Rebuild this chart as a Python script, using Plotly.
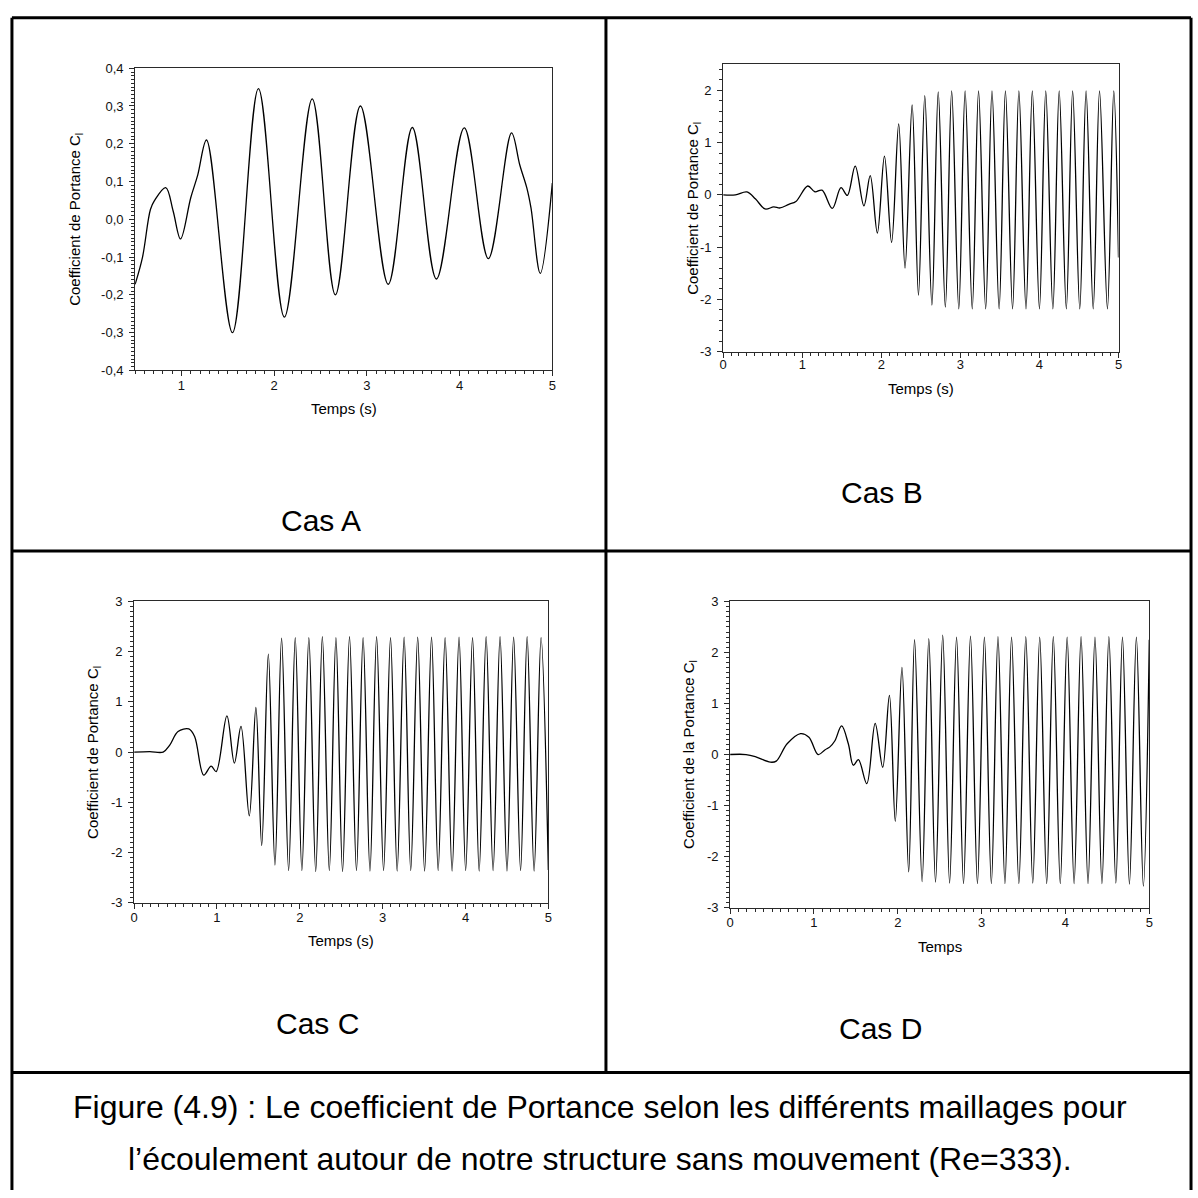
import plotly.graph_objects as go

W = H = 1198
FONT = "Liberation Sans, Arial, sans-serif"

# ---------------- data ----------------
# Cas A : lift coefficient vs time
t_a = [0.50, 0.58, 0.665, 0.71, 0.83, 0.91, 0.99, 1.10, 1.175, 1.27, 1.55, 1.83, 2.11,
       2.41, 2.66, 2.93, 3.23, 3.49, 3.75, 4.05, 4.31, 4.56, 4.65, 4.725, 4.77, 4.87, 5.00]
cl_a = [-0.172, -0.100, 0.026, 0.050, 0.084, 0.022, -0.052, 0.057, 0.117, 0.210, -0.300, 0.346, -0.259,
        0.319, -0.200, 0.300, -0.172, 0.243, -0.158, 0.242, -0.104, 0.229, 0.143, 0.083, 0.030, -0.143, 0.096]

# Cas B
t_b = [0.00, 0.155, 0.30, 0.41, 0.53, 0.64, 0.72, 0.83, 0.92, 1.07, 1.16, 1.25, 1.38, 1.49, 1.57,
       1.67, 1.78, 1.86, 1.95, 2.04, 2.13, 2.22, 2.30, 2.39, 2.47, 2.55, 2.64, 2.72,
       2.81, 2.89, 2.98, 3.06, 3.15, 3.23, 3.32, 3.40, 3.49, 3.57, 3.66, 3.74, 3.83, 3.91,
       4.00, 4.08, 4.17, 4.25, 4.34, 4.42, 4.51, 4.59, 4.68, 4.76, 4.86, 4.94, 5.00]
cl_b = [0.00, 0.00, 0.057, -0.08, -0.27, -0.23, -0.25, -0.18, -0.126, 0.17, 0.06, 0.09, -0.26, 0.14, -0.01,
        0.55, -0.21, 0.37, -0.73, 0.74, -0.91, 1.36, -1.40, 1.72, -1.92, 1.90, -2.11, 1.97,
        -2.15, 1.99, -2.18, 1.99, -2.18, 1.99, -2.18, 1.99, -2.18, 1.99, -2.18, 1.99, -2.18, 1.99,
        -2.18, 1.99, -2.18, 1.99, -2.18, 1.99, -2.18, 1.99, -2.18, 1.99, -2.18, 1.99, -1.20]

# Cas C
t_c = [0.00, 0.19, 0.35, 0.43, 0.53, 0.66, 0.73, 0.84, 0.93, 0.99, 1.12, 1.21, 1.29, 1.39, 1.47,
       1.54, 1.62, 1.70, 1.78,
       1.865, 1.945, 2.025, 2.109, 2.192, 2.272, 2.356, 2.436, 2.516, 2.600, 2.684, 2.764,
       2.847, 2.927, 3.011, 3.095, 3.175, 3.259, 3.339, 3.423, 3.506, 3.590, 3.670, 3.754,
       3.838, 3.922, 4.002, 4.085, 4.165, 4.249, 4.333, 4.417, 4.501, 4.581, 4.665, 4.744,
       4.828, 4.912, 5.00]
cl_c = [0.00, 0.01, 0.00, 0.14, 0.41, 0.46, 0.31, -0.46, -0.28, -0.39, 0.72, -0.22, 0.51, -1.27, 0.89,
        -1.86, 1.95, -2.25, 2.27,
        -2.36, 2.28, -2.36, 2.28, -2.38, 2.30, -2.36, 2.28, -2.38, 2.30, -2.36, 2.28,
        -2.37, 2.30, -2.36, 2.28, -2.37, 2.29, -2.36, 2.29, -2.37, 2.29, -2.36, 2.28,
        -2.37, 2.29, -2.36, 2.28, -2.37, 2.30, -2.36, 2.30, -2.37, 2.29, -2.36, 2.30,
        -2.37, 2.28, -2.35]

# Cas D
t_d = [0.00, 0.19, 0.30, 0.48, 0.55, 0.68, 0.84, 0.94, 1.05, 1.13, 1.19, 1.25, 1.33, 1.41, 1.47,
       1.53, 1.63, 1.73, 1.82, 1.90, 1.97, 2.05, 2.13, 2.20, 2.29, 2.37, 2.45, 2.536,
       2.618, 2.701, 2.784, 2.867, 2.950, 3.033, 3.116, 3.195, 3.278, 3.357, 3.444, 3.527,
       3.610, 3.693, 3.776, 3.855, 3.938, 4.020, 4.103, 4.186, 4.269, 4.352, 4.435, 4.518,
       4.601, 4.680, 4.763, 4.846, 4.929, 5.00]
cl_d = [0.00, 0.00, -0.04, -0.15, -0.13, 0.21, 0.41, 0.34, 0.00, 0.09, 0.15, 0.27, 0.56, 0.21, -0.21,
        -0.10, -0.57, 0.61, -0.25, 1.16, -1.31, 1.71, -2.30, 2.25, -2.49, 2.27, -2.50, 2.34,
        -2.52, 2.30, -2.53, 2.32, -2.53, 2.30, -2.53, 2.31, -2.53, 2.30, -2.53, 2.31,
        -2.52, 2.30, -2.53, 2.31, -2.53, 2.30, -2.53, 2.31, -2.53, 2.30, -2.53, 2.31,
        -2.52, 2.30, -2.54, 2.30, -2.58, 2.25]

# tick labels
xticks_a = [1, 2, 3, 4, 5]
yticks_a = [-0.4, -0.3, -0.2, -0.1, 0.0, 0.1, 0.2, 0.3, 0.4]
ylabels_a = ["-0,4", "-0,3", "-0,2", "-0,1", "0,0", "0,1", "0,2", "0,3", "0,4"]
xticks_int = [0, 1, 2, 3, 4, 5]
yticks_b = [-3, -2, -1, 0, 1, 2]
yticks_cd = [-3, -2, -1, 0, 1, 2, 3]

case_names = ["Cas A", "Cas B", "Cas C", "Cas D"]
ytitle_std = "Coefficient de Portance C<sub>l</sub>"
ytitle_d = "Coefficient de la Portance C<sub>l</sub>"
xtitle_s = "Temps (s)"
xtitle_d = "Temps"
caption_1 = "Figure (4.9) : Le coefficient de Portance selon les différents maillages pour"
caption_2 = "l’écoulement autour de notre structure sans mouvement (Re=333)."


# ---------------- layout helpers ----------------
def px_x(x):
    return x / W


def px_y(y):
    return 1 - y / H


def dom_x(left, right):
    return [px_x(left), px_x(right)]


def dom_y(top, bottom):
    return [px_y(bottom), px_y(top)]


AX = "#2a2a2a"


def axis(domain, rng, tickvals, ticktext, minor_dtick, anchor, standoff):
    return dict(
        domain=domain, range=rng, anchor=anchor,
        showline=True, linecolor=AX, linewidth=1, mirror=True,
        showgrid=False, zeroline=False,
        ticks="outside", ticklen=5, tickwidth=1, tickcolor=AX,
        ticklabelstandoff=standoff,
        tickmode="array", tickvals=tickvals, ticktext=ticktext,
        tickfont=dict(family=FONT, size=13, color="#111"),
        minor=dict(ticks="outside", ticklen=3, tickwidth=1, tickcolor=AX,
                   tickmode="linear", tick0=0, dtick=minor_dtick, showgrid=False),
        fixedrange=True,
    )


# plot-area boxes in pixels: (left, right, top, bottom)
box_a = (132, 552, 62, 368)
box_b = (724, 1122, 58, 349)
box_c = (131, 548, 602, 907)
box_d = (731, 1153, 602, 912)

fig = go.Figure()
line = dict(color="black", width=1.3, shape="spline", smoothing=1.0)
fig.add_trace(go.Scatter(x=t_a, y=cl_a, mode="lines", line=line, xaxis="x", yaxis="y"))
fig.add_trace(go.Scatter(x=t_b, y=cl_b, mode="lines", line=line, xaxis="x2", yaxis="y2"))
fig.add_trace(go.Scatter(x=t_c, y=cl_c, mode="lines", line=line, xaxis="x3", yaxis="y3"))
fig.add_trace(go.Scatter(x=t_d, y=cl_d, mode="lines", line=line, xaxis="x4", yaxis="y4"))

int_labels = [str(v) for v in xticks_int]
fig.update_layout(
    xaxis=axis(dom_x(box_a[0], box_a[1]), [0.5, 5], xticks_a, [str(v) for v in xticks_a], 0.1, "y", -2),
    yaxis=axis(dom_y(box_a[2], box_a[3]), [-0.4, 0.4], yticks_a, ylabels_a, 0.01, "x", 3),
    xaxis2=axis(dom_x(box_b[0], box_b[1]), [0, 5], xticks_int, int_labels, 0.1, "y2", -4),
    yaxis2=axis(dom_y(box_b[2], box_b[3]), [-3, 2.5], yticks_b, [str(v) for v in yticks_b], 0.2, "x2", 3),
    xaxis3=axis(dom_x(box_c[0], box_c[1]), [0, 5], xticks_int, int_labels, 0.1, "y3", -2),
    yaxis3=axis(dom_y(box_c[2], box_c[3]), [-3, 3], yticks_cd, [str(v) for v in yticks_cd], 0.1, "x3", 3),
    xaxis4=axis(dom_x(box_d[0], box_d[1]), [0, 5], xticks_int, int_labels, 0.1, "y4", -2),
    yaxis4=axis(dom_y(box_d[2], box_d[3]), [-3, 3], yticks_cd, [str(v) for v in yticks_cd], 0.1, "x4", 3),
)

annotations = []


def text_at(x, y, txt, size, angle=0):
    annotations.append(dict(
        x=px_x(x), y=px_y(y), xref="paper", yref="paper", text=txt, showarrow=False,
        textangle=angle, xanchor="center", yanchor="middle",
        font=dict(family=FONT, size=size, color="black"),
    ))


# axis titles
text_at(72, 215, ytitle_std, 15, -90)
text_at((box_a[0] + box_a[1]) / 2, 407, xtitle_s, 15)
text_at(694, 204, ytitle_std, 15, -90)
text_at((box_b[0] + box_b[1]) / 2, 386, xtitle_s, 15)
text_at(90, 755, ytitle_std, 15, -90)
text_at((box_c[0] + box_c[1]) / 2, 945, xtitle_s, 15)
text_at(690, 757, ytitle_d, 15, -90)
text_at((box_d[0] + box_d[1]) / 2, 951, xtitle_d, 15)

# case labels
text_at(319, 520, case_names[0], 30)
text_at(884, 492, case_names[1], 30)
text_at(316, 1029, case_names[2], 30)
text_at(882, 1034, case_names[3], 30)

# caption
text_at(600, 1114, caption_1, 32)
text_at(600, 1167, caption_2, 32)

# table frame
BL = dict(color="black", width=3)
shapes = [
    dict(type="line", xref="paper", yref="paper", x0=px_x(8), x1=px_x(1195), y0=px_y(11), y1=px_y(11), line=BL),
    dict(type="line", xref="paper", yref="paper", x0=px_x(8), x1=px_x(8), y0=px_y(11), y1=px_y(1198), line=BL),
    dict(type="line", xref="paper", yref="paper", x0=px_x(1195), x1=px_x(1195), y0=px_y(11), y1=px_y(1198), line=BL),
    dict(type="line", xref="paper", yref="paper", x0=px_x(606), x1=px_x(606), y0=px_y(11), y1=px_y(1079), line=BL),
    dict(type="line", xref="paper", yref="paper", x0=px_x(8), x1=px_x(1195), y0=px_y(551), y1=px_y(551), line=BL),
    dict(type="line", xref="paper", yref="paper", x0=px_x(8), x1=px_x(1195), y0=px_y(1079), y1=px_y(1079), line=BL),
]

fig.update_layout(
    width=W, height=H, margin=dict(l=0, r=0, t=0, b=0),
    paper_bgcolor="white", plot_bgcolor="white",
    showlegend=False, annotations=annotations, shapes=shapes,
    font=dict(family=FONT, color="black"),
)

# page body without default margin so the figure sits at the window origin
fig.write_html(
    "out.html",
    config={"displayModeBar": False},
    post_script="document.body.style.margin='0';document.body.style.padding='0';",
)
